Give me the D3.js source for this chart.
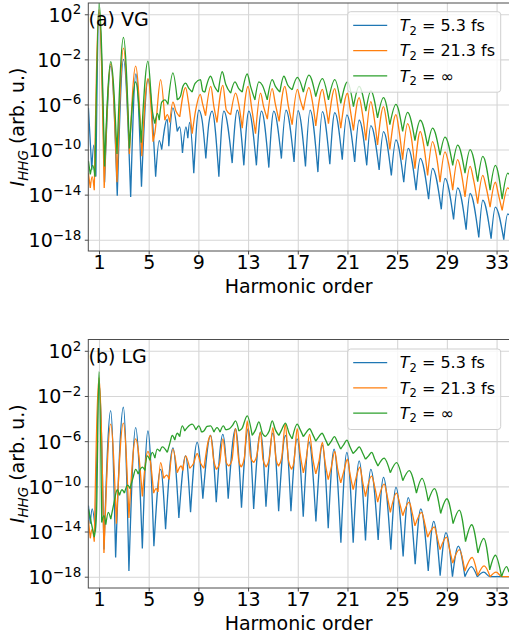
<!DOCTYPE html>
<html>
<head>
<meta charset="utf-8">
<script src="https://cdn.jsdelivr.net/npm/d3@7"></script>
<style>
  body { margin: 0; background: #fff; }
  svg { display: block; font-family: "DejaVu Sans", sans-serif; }
</style>
</head>
<body>
<svg id="chart" width="509" height="635"></svg>
<script>
// axis values
const harmonicRange = [0.14, 34]
const harmonicTicks = [1, 5, 9, 13, 17, 21, 25, 29, 33]
const intensityRange = [1e-19, 1e3]
const decadeTicks = [2, -2, -6, -10, -14, -18]

// legend
const dephasingLabels = ['5.3 fs', '21.3 fs', '\u221E']
const seriesColors = ['#1f77b4', '#ff7f0e', '#2ca02c']

// spectra: [harmonic order, log10 intensity]
// (a) VG
const vgShort = [[0.15,-6.3],[0.42,-11.8],[0.58,-9.6],[0.75,-12.4],[1.0,2.2],[1.45,-12.9],[1.95,-2.6],[2.47,-14.1],[2.97,-2.0],[3.55,-14.2],[3.97,-3.3],[4.42,-13.3],[4.95,-3.8],[5.56,-12.4],[5.85,-9.2],[6.05,-10.0],[6.5,-7.3],[6.62,-9.7],[6.95,-6.3],[7.3,-8.4],[7.5,-8.0],[7.72,-10.3],[8.0,-8.0],[8.15,-9.0],[8.3,-7.6],[8.63,-12.1],[9.04,-6.5],[9.3,-7.4],[9.6,-10.8],[9.85,-7.6],[10.1,-6.6],[10.65,-12.4],[11.05,-6.6],[11.72,-11.2],[12.13,-6.5],[12.66,-11.4],[13.06,-6.6],[13.67,-11.4],[14.08,-6.6],[14.67,-11.6],[15.07,-6.6],[15.68,-10.8],[16.05,-6.5],[16.7,-11.1],[17.02,-6.55],[17.62,-11.5],[17.99,-6.5],[18.62,-12.0],[18.98,-6.64],[19.58,-11.3],[19.98,-6.73],[20.58,-10.9],[20.95,-6.93],[21.58,-11.1],[21.94,-7.38],[22.55,-11.4],[22.88,-7.88],[23.55,-11.8],[23.9,-8.41],[24.53,-12.3],[24.9,-9.15],[25.53,-12.9],[25.89,-9.9],[26.52,-13.6],[26.86,-10.78],[27.53,-14.4],[27.85,-11.67],[28.55,-15.3],[28.85,-12.56],[29.54,-16.2],[29.87,-13.4],[30.55,-17.1],[30.87,-13.9],[31.57,-17.8],[31.89,-14.5],[32.56,-17.9],[32.9,-15.1],[33.58,-18.0],[33.9,-15.7],[34.0,-15.8]]
const vgMid = [[0.15,-12.1],[0.3,-13.4],[0.45,-12.4],[0.62,-13.6],[1.0,2.4],[1.42,-13.4],[1.95,-2.4],[2.45,-12.9],[2.97,-1.0],[3.45,-10.4],[3.95,-2.6],[4.45,-10.6],[4.94,-3.7],[5.35,-9.3],[5.5,-8.5],[5.96,-3.8],[6.3,-7.4],[6.5,-6.9],[6.7,-7.6],[6.95,-5.8],[7.2,-6.6],[7.5,-7.1],[7.97,-4.5],[8.2,-5.8],[8.5,-8.6],[8.8,-6.4],[9.15,-5.1],[9.35,-6.0],[9.58,-7.0],[10.0,-4.4],[10.25,-6.2],[10.5,-7.6],[10.97,-4.3],[11.25,-6.5],[11.6,-6.9],[12.0,-5.0],[12.25,-6.0],[12.53,-8.1],[13.0,-4.4],[13.3,-6.4],[13.6,-8.6],[14.0,-5.0],[14.25,-6.2],[14.55,-7.3],[14.94,-4.6],[15.2,-6.0],[15.5,-7.5],[15.96,-4.4],[16.25,-6.2],[16.55,-7.8],[16.97,-4.66],[17.2,-5.6],[17.45,-6.5],[17.9,-4.5],[18.2,-5.9],[18.45,-7.9],[18.98,-4.66],[19.2,-5.8],[19.47,-7.7],[19.98,-4.6],[20.2,-6.0],[20.46,-8.1],[21.0,-5.0],[21.2,-6.3],[21.48,-8.3],[21.94,-5.4],[22.2,-6.8],[22.48,-9.2],[22.88,-5.75],[23.15,-7.2],[23.42,-9.6],[23.9,-6.2],[24.15,-7.6],[24.41,-10.0],[24.9,-6.9],[25.15,-8.3],[25.44,-10.9],[25.84,-7.7],[26.15,-9.0],[26.43,-11.7],[26.86,-8.4],[27.15,-9.7],[27.45,-12.3],[27.85,-9.3],[28.15,-10.5],[28.45,-12.9],[28.85,-10.2],[29.15,-11.3],[29.47,-13.6],[29.87,-10.9],[30.15,-12.0],[30.46,-14.2],[30.87,-11.5],[31.15,-12.7],[31.48,-14.8],[31.89,-12.3],[32.15,-13.3],[32.48,-15.1],[32.9,-12.9],[33.15,-14.0],[33.45,-15.4],[33.9,-13.4],[34.0,-13.5]]
const vgInf = [[0.15,-11.0],[0.3,-12.2],[0.5,-11.4],[0.68,-12.4],[1.0,3.0],[1.45,-11.5],[1.95,-2.2],[2.45,-10.4],[2.97,-0.05],[3.45,-9.9],[3.95,-4.0],[4.4,-9.4],[4.94,-2.15],[5.3,-6.6],[5.5,-7.7],[5.7,-6.8],[5.85,-7.4],[6.05,-5.8],[6.3,-5.6],[6.55,-6.0],[6.95,-3.2],[7.3,-5.6],[7.55,-5.3],[7.75,-4.4],[7.97,-4.1],[8.25,-4.6],[8.5,-4.9],[8.75,-4.1],[9.17,-3.8],[9.35,-4.8],[9.53,-4.9],[9.98,-3.5],[10.3,-4.4],[10.6,-4.9],[10.92,-3.1],[11.2,-4.2],[11.6,-5.0],[11.94,-4.0],[12.25,-4.6],[12.53,-4.9],[12.93,-3.3],[13.2,-4.4],[13.55,-5.6],[13.87,-4.0],[14.15,-4.3],[14.54,-5.6],[14.94,-3.8],[15.2,-4.4],[15.56,-4.9],[15.88,-3.5],[16.2,-4.3],[16.55,-4.7],[16.97,-3.6],[17.45,-4.9],[17.9,-3.4],[18.45,-5.3],[18.98,-3.7],[19.47,-5.6],[19.98,-3.8],[20.46,-5.9],[21.0,-4.0],[21.48,-6.2],[21.94,-4.4],[22.48,-6.6],[22.88,-4.8],[23.42,-7.2],[23.9,-5.4],[24.41,-7.8],[24.9,-6.0],[25.44,-8.4],[25.84,-6.7],[26.43,-9.2],[26.86,-7.4],[27.45,-9.7],[27.85,-8.1],[28.45,-10.5],[28.85,-8.9],[29.47,-11.4],[29.87,-9.6],[30.46,-12.1],[30.87,-10.0],[31.48,-12.85],[31.89,-10.6],[32.48,-13.6],[32.9,-11.4],[33.45,-14.4],[33.9,-12.1],[34.0,-12.2]]

// (b) LG
const lgShort = [[0.15,-11.7],[0.3,-13.3],[0.45,-12.0],[0.72,-14.0],[1.0,-0.8],[1.4,-15.6],[1.94,-3.3],[2.34,-16.3],[2.96,-3.0],[3.41,-17.5],[3.95,-4.8],[4.49,-15.5],[4.94,-5.1],[5.42,-15.3],[5.96,-8.5],[6.36,-13.8],[6.95,-6.6],[7.43,-12.8],[7.97,-7.3],[8.37,-12.3],[8.9,-6.1],[9.36,-11.1],[9.98,-5.5],[10.44,-11.4],[10.97,-5.4],[11.4,-11.1],[11.99,-4.9],[12.47,-11.9],[13.01,-4.9],[13.45,-12.0],[14.0,-5.2],[14.44,-11.8],[15.0,-5.3],[15.46,-12.2],[16.01,-5.5],[16.45,-12.2],[16.95,-5.8],[17.44,-12.7],[17.9,-6.07],[18.46,-13.1],[18.98,-6.36],[19.45,-13.7],[19.92,-6.71],[20.47,-15.0],[20.95,-7.0],[21.46,-15.0],[21.94,-7.75],[22.45,-14.8],[22.88,-8.5],[23.47,-14.75],[23.9,-9.2],[24.49,-15.6],[24.9,-10.1],[25.48,-16.2],[25.89,-11.0],[26.45,-16.9],[26.9,-12.0],[27.5,-17.5],[27.94,-13.1],[28.46,-17.9],[28.93,-14.1],[29.45,-18.0],[29.92,-15.3],[30.45,-18.0],[30.97,-17.1],[31.45,-18.0],[31.97,-17.6],[32.45,-18.0],[33.0,-18.0],[34.0,-18.0]]
const lgMid = [[0.15,-13.0],[0.3,-14.6],[0.45,-13.8],[0.62,-14.9],[1.0,-0.4],[1.4,-15.9],[1.94,-4.5],[2.4,-13.3],[2.96,-4.4],[3.41,-12.8],[3.95,-5.8],[4.49,-10.9],[4.94,-6.9],[5.4,-10.6],[5.6,-10.2],[5.75,-10.5],[5.96,-7.9],[6.2,-9.3],[6.45,-9.0],[6.65,-9.4],[6.95,-6.7],[7.3,-8.8],[7.6,-8.2],[7.75,-8.6],[7.97,-7.3],[8.3,-8.4],[8.6,-8.0],[8.9,-7.1],[9.2,-8.0],[9.45,-8.4],[9.98,-5.5],[10.25,-7.8],[10.45,-8.5],[10.7,-8.0],[10.97,-5.8],[11.25,-7.9],[11.45,-8.2],[11.7,-7.7],[11.99,-4.9],[12.25,-7.7],[12.45,-8.3],[12.7,-7.5],[12.93,-4.2],[13.2,-7.4],[13.45,-7.9],[13.7,-7.3],[14.0,-5.2],[14.2,-7.6],[14.45,-8.3],[14.7,-7.6],[15.0,-4.8],[15.25,-7.6],[15.45,-8.2],[15.7,-7.5],[16.0,-4.5],[16.25,-7.7],[16.5,-8.5],[16.7,-7.8],[16.95,-4.9],[17.2,-7.2],[17.45,-8.8],[17.7,-7.4],[17.95,-5.4],[18.2,-7.5],[18.45,-8.9],[18.7,-7.8],[18.98,-6.1],[19.2,-7.9],[19.45,-9.4],[19.7,-8.3],[19.98,-6.9],[20.2,-8.4],[20.46,-9.7],[20.7,-8.7],[21.0,-7.6],[21.2,-8.9],[21.46,-10.3],[21.7,-9.2],[22.0,-8.3],[22.2,-9.5],[22.45,-10.9],[22.94,-9.1],[23.2,-10.1],[23.43,-11.4],[23.96,-9.8],[24.2,-10.9],[24.45,-12.3],[24.95,-10.6],[25.2,-11.5],[25.45,-12.6],[25.97,-11.4],[26.2,-12.3],[26.43,-13.5],[26.97,-12.3],[27.2,-13.2],[27.45,-14.5],[27.99,-13.6],[28.2,-14.4],[28.45,-15.6],[28.98,-14.5],[29.2,-15.5],[29.47,-16.8],[30.0,-15.6],[30.45,-17.5],[31.03,-16.3],[31.48,-17.9],[32.0,-17.05],[32.48,-18.0],[32.96,-17.6],[33.45,-18.0],[34.0,-18.0]]
const lgInf = [[0.15,-12.0],[0.3,-12.8],[0.45,-13.6],[0.62,-14.5],[0.8,-12.4],[1.0,0.15],[1.22,-13.2],[1.4,-12.6],[1.55,-13.4],[1.75,-12.3],[1.95,-12.9],[2.2,-11.5],[2.47,-10.3],[2.65,-10.8],[2.85,-10.3],[3.05,-10.6],[3.3,-9.9],[3.5,-10.2],[3.75,-9.2],[3.95,-8.5],[4.15,-8.9],[4.49,-8.3],[4.7,-8.6],[4.89,-7.3],[5.1,-7.7],[5.29,-7.0],[5.5,-7.5],[5.69,-6.7],[5.9,-6.9],[6.1,-6.5],[6.5,-7.0],[6.7,-6.2],[6.9,-5.5],[7.1,-5.9],[7.3,-5.3],[7.5,-5.6],[7.7,-4.65],[7.9,-5.1],[8.1,-4.8],[8.5,-4.5],[8.8,-5.0],[9.04,-4.65],[9.25,-5.2],[9.44,-5.1],[9.7,-4.7],[9.98,-4.65],[10.25,-5.2],[10.5,-4.8],[10.75,-5.2],[11.0,-4.65],[11.19,-5.0],[11.5,-4.9],[11.75,-4.6],[11.99,-4.2],[12.26,-5.1],[12.5,-4.9],[12.93,-3.76],[13.33,-5.5],[13.6,-5.0],[13.87,-4.3],[14.15,-5.3],[14.4,-5.6],[14.7,-5.1],[14.94,-4.2],[15.2,-5.0],[15.48,-5.5],[15.7,-5.0],[16.01,-4.4],[16.3,-5.3],[16.55,-5.8],[16.95,-4.5],[17.2,-5.0],[17.45,-5.6],[17.7,-5.2],[17.95,-4.9],[18.2,-5.4],[18.45,-6.0],[18.7,-5.6],[18.95,-5.3],[19.2,-5.8],[19.45,-6.4],[19.7,-6.0],[19.95,-5.6],[20.2,-6.1],[20.45,-6.7],[20.7,-6.3],[20.95,-5.9],[21.2,-6.5],[21.45,-7.1],[21.7,-6.8],[21.95,-6.5],[22.2,-7.0],[22.45,-7.6],[22.7,-7.3],[22.95,-7.0],[23.2,-7.6],[23.45,-8.2],[23.95,-7.5],[24.45,-8.8],[24.95,-7.9],[25.45,-9.5],[25.97,-8.6],[26.55,-10.6],[27.0,-9.3],[27.5,-11.3],[28.0,-10.2],[28.5,-12.4],[29.0,-11.1],[29.5,-13.3],[30.0,-12.1],[30.5,-14.9],[31.0,-13.4],[31.5,-15.9],[31.97,-14.6],[32.45,-17.4],[32.9,-16.1],[33.4,-18.0],[33.8,-17.1],[34.0,-17.6]]

const FONT = 19
const SMALL = '13.5px'
const LEGEND_FONT = 16
const LEGEND_SMALL = '11.5px'
const gridColor = '#d6d6d6'
const spineColor = '#4d4d4d'

const panels = [
  {top: 3, bottom: 251, label: '(a) VG', series: [vgShort, vgMid, vgInf], legendTop: 11.7},
  {top: 339.5, bottom: 588, label: '(b) LG', series: [lgShort, lgMid, lgInf], legendTop: 349},
]

const svg = d3.select('#chart')
const x = d3.scaleLinear().domain(harmonicRange).range([88.3, 509])

// split at local minima so the dips come out as cusps and the humps stay round
const spectrumPath = (pts, line) => {
  const pieces = []
  let start = 0
  for (let i = 1; i < pts.length - 1; i++) {
    if (pts[i][1] < pts[i - 1][1] && pts[i][1] < pts[i + 1][1]) {
      pieces.push(line(pts.slice(start, i + 1)))
      start = i
    }
  }
  pieces.push(line(pts.slice(start)))
  return pieces.join('')
}

const supText = (sel, base, exp) => {
  sel.text(null)
  sel.append('tspan').text(base)
  sel.append('tspan').attr('dy', '-0.55em').attr('font-size', SMALL).text(exp)
}

panels.forEach((p, pi) => {
  const y = d3.scaleLog().domain(intensityRange).range([p.bottom, p.top])
  const g = svg.append('g')
  const clipId = 'clip' + pi
  const [x0, x1] = x.range()

  svg.append('defs').append('clipPath').attr('id', clipId)
    .append('rect')
    .attr('x', x0).attr('y', p.top)
    .attr('width', x1 - x0).attr('height', p.bottom - p.top)

  // grid
  g.append('g')
    .attr('transform', `translate(0,${p.bottom})`)
    .call(d3.axisBottom(x).tickValues(harmonicTicks).tickSize(-(p.bottom - p.top)).tickFormat(''))
    .call(a => a.select('.domain').remove())
    .call(a => a.selectAll('line').attr('stroke', gridColor).attr('stroke-width', 1.1))
  g.append('g')
    .attr('transform', `translate(${x0},0)`)
    .call(d3.axisLeft(y).tickValues(decadeTicks.map(e => 10 ** e)).tickSize(-(x1 - x0)).tickFormat(''))
    .call(a => a.select('.domain').remove())
    .call(a => a.selectAll('line').attr('stroke', gridColor).attr('stroke-width', 1.1))

  // spectra
  const line = d3.line()
    .x(d => x(d[0]))
    .y(d => y(10 ** d[1]))
    .curve(d3.curveMonotoneX)
  g.append('g')
    .attr('clip-path', `url(#${clipId})`)
    .selectAll('path')
    .data(p.series)
    .join('path')
    .attr('d', d => spectrumPath(d, line))
    .attr('fill', 'none')
    .attr('stroke', (d, i) => seriesColors[i])
    .attr('stroke-width', 1.3)
    .attr('stroke-linejoin', 'round')

  // axes
  const xAxis = g.append('g')
    .attr('transform', `translate(0,${p.bottom})`)
    .call(d3.axisBottom(x).tickValues(harmonicTicks).tickSize(3.5).tickPadding(3.5).tickSizeOuter(0))
  xAxis.select('.domain').remove()
  xAxis.selectAll('line').attr('stroke', spineColor)
  xAxis.selectAll('text')
    .attr('font-family', '"DejaVu Sans", sans-serif')
    .attr('font-size', FONT).attr('fill', '#000').attr('dy', '0.6em')

  const yAxis = g.append('g')
    .attr('transform', `translate(${x0},0)`)
    .call(d3.axisLeft(y).tickValues(decadeTicks.map(e => 10 ** e)).tickSize(3.5).tickPadding(3.5).tickSizeOuter(0))
  yAxis.select('.domain').remove()
  yAxis.selectAll('line').attr('stroke', spineColor)
  yAxis.selectAll('text')
    .attr('font-family', '"DejaVu Sans", sans-serif')
    .attr('font-size', FONT).attr('fill', '#000').attr('dy', '0.36em')
    .each(function (d) {
      const e = Math.round(Math.log10(d))
      supText(d3.select(this), '10', e < 0 ? '\u2212' + (-e) : String(e))
    })

  // spines
  g.append('rect')
    .attr('x', x0).attr('y', p.top)
    .attr('width', x1 - x0 + 2).attr('height', p.bottom - p.top)
    .attr('fill', 'none').attr('stroke', spineColor).attr('stroke-width', 1)

  // labels
  g.append('text')
    .attr('x', (x0 + x1) / 2).attr('y', p.bottom + 41.5)
    .attr('text-anchor', 'middle').attr('font-size', FONT)
    .text('Harmonic order')

  const yl = g.append('text')
    .attr('transform', `translate(24,${(p.top + p.bottom) / 2}) rotate(-90)`)
    .attr('text-anchor', 'middle').attr('font-size', FONT)
  yl.append('tspan').attr('font-style', 'italic').text('I')
  yl.append('tspan').attr('font-style', 'italic').attr('font-size', SMALL).attr('dy', '0.3em').text('HHG')
  yl.append('tspan').attr('dy', '-0.22em').text(' (arb. u.)')

  g.append('text')
    .attr('x', 88.5).attr('y', p.top + 23)
    .attr('font-size', FONT)
    .text(p.label)

  // legend
  const lg = g.append('g').attr('transform', `translate(347.7,${p.legendTop})`)
  lg.append('rect')
    .attr('width', 153).attr('height', 80.5).attr('rx', 3)
    .attr('fill', '#fff').attr('fill-opacity', 0.8)
    .attr('stroke', '#cfcfcf').attr('stroke-width', 1)
  dephasingLabels.forEach((lab, i) => {
    const cy = 13.6 + i * 25.3
    lg.append('line')
      .attr('x1', 5.5).attr('x2', 39.5).attr('y1', cy).attr('y2', cy)
      .attr('stroke', seriesColors[i]).attr('stroke-width', 1.3)
    const t = lg.append('text').attr('x', 52).attr('y', cy + 5.8).attr('font-size', LEGEND_FONT)
    t.append('tspan').attr('font-style', 'italic').text('T')
    t.append('tspan').attr('font-size', LEGEND_SMALL).attr('dy', '0.3em').text('2')
    t.append('tspan').attr('dy', '-0.22em').text(' = ' + lab)
  })
})
</script>
</body>
</html>
